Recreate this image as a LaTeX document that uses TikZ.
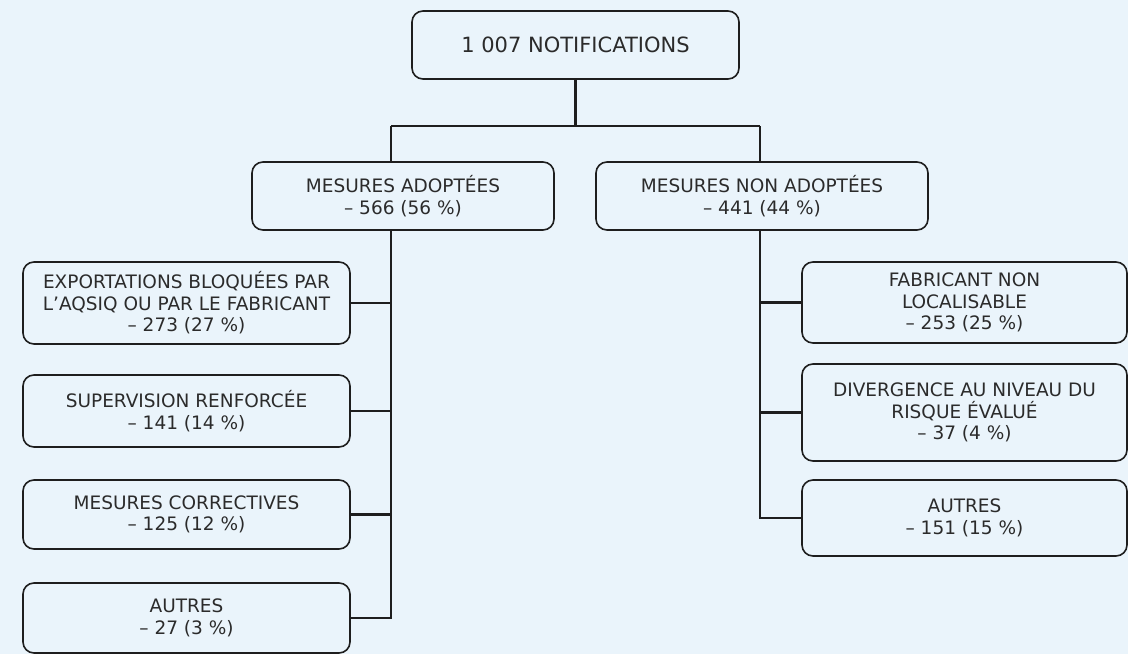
\documentclass[tikz,border=0pt]{standalone}
\usepackage{fontspec}
\setmainfont{DejaVu Sans}
\definecolor{bgc}{HTML}{EAF4FB}
\definecolor{txt}{HTML}{2B2B2B}
\definecolor{lin}{HTML}{1E1E1E}
\tikzset{
  box/.style={draw=lin, line width=1.6pt, rounded corners=11pt, rectangle, align=center,
    text=txt, font=\fontsize{18.5}{21.5}\selectfont, inner sep=0pt},
  conn/.style={draw=lin, line width=2.6pt}
}
\begin{document}
\begin{tikzpicture}[x=1pt,y=-1pt]
\fill[bgc] (0,0) rectangle (1128,654);
\useasboundingbox (0,0) rectangle (1128,654);
\node[box, minimum width=327pt, minimum height=68pt, font=\fontsize{21}{25}\selectfont] (top) at (575.5,45) {1 007 NOTIFICATIONS};
\node[box, minimum width=302pt, minimum height=68pt] (midL) at (403,196) {MESURES ADOPTÉES\\– 566 (56 \%)};
\node[box, minimum width=332pt, minimum height=68pt] (midR) at (762,196) {MESURES NON ADOPTÉES\\– 441 (44 \%)};
\node[box, minimum width=327pt, minimum height=82pt] (L1) at (186.5,303) {EXPORTATIONS BLOQUÉES PAR\\L’AQSIQ OU PAR LE FABRICANT\\– 273 (27 \%)};
\node[box, minimum width=327pt, minimum height=72pt] (L2) at (186.5,411) {SUPERVISION RENFORCÉE\\– 141 (14 \%)};
\node[box, minimum width=327pt, minimum height=69pt] (L3) at (186.5,514.5) {MESURES CORRECTIVES\\– 125 (12 \%)};
\node[box, minimum width=327pt, minimum height=70pt] (L4) at (186.5,618) {AUTRES\\– 27 (3 \%)};
\node[box, minimum width=325pt, minimum height=81pt] (R1) at (964.5,302.5) {FABRICANT NON\\LOCALISABLE\\– 253 (25 \%)};
\node[box, minimum width=325pt, minimum height=97pt] (R2) at (964.5,412.5) {DIVERGENCE AU NIVEAU DU\\RISQUE ÉVALUÉ\\– 37 (4 \%)};
\node[box, minimum width=325pt, minimum height=76pt] (R3) at (964.5,518) {AUTRES\\– 151 (15 \%)};
\coordinate (ja) at (575.5,126);
\coordinate (jl) at (391,126);
\coordinate (jr) at (760,126);
\draw[conn] (top.south) -- (ja);
\draw[conn] (jl) -- (jr);
\draw[conn] (jl) -- (jl |- midL.north);
\draw[conn] (jr) -- (jr |- midR.north);
\draw[conn] (jl |- midL.south) -- (jl |- L4.east) -- (L4.east);
\draw[conn] (jl |- L1.east) -- (L1.east);
\draw[conn] (jl |- L2.east) -- (L2.east);
\draw[conn] (jl |- L3.east) -- (L3.east);
\draw[conn] (jr |- midR.south) -- (jr |- R3.west) -- (R3.west);
\draw[conn] (jr |- R1.west) -- (R1.west);
\draw[conn] (jr |- R2.west) -- (R2.west);
\end{tikzpicture}
\end{document}
